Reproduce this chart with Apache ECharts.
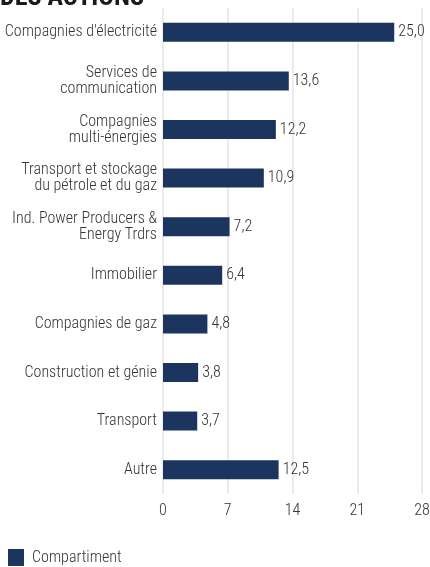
<!DOCTYPE html>
<html><head><meta charset="utf-8">
<script src="https://cdn.jsdelivr.net/npm/echarts@6/dist/echarts.min.js"></script>
<style>html,body{margin:0;padding:0;background:#fff}#c{width:430px;height:567px}</style>
</head><body><div id="c"></div>
<script>
var categories = ["Compagnies d'électricité","Services de\ncommunication","Compagnies\nmulti-énergies","Transport et stockage\ndu pétrole et du gaz","Ind. Power Producers &\nEnergy Trdrs","Immobilier","Compagnies de gaz","Construction et génie","Transport","Autre"];
var values = [25.0,13.6,12.2,10.9,7.2,6.4,4.8,3.8,3.7,12.5];
var seriesName = "Compartiment";
var titleText = "DES ACTIONS";
var FONT = "'Roboto Condensed',sans-serif";
var chart = echarts.init(document.getElementById('c'), null, {renderer:'canvas'});
chart.setOption({
  animation:false,
  title:{text:titleText,left:0,top:-20,padding:[5,5,5,0],textStyle:{fontFamily:FONT,fontWeight:'bold',fontSize:26,color:'#1a1a1a'}},
  legend:{left:8,top:549,padding:0,itemWidth:16,itemHeight:17,itemGap:8,icon:'rect',
    textStyle:{fontFamily:FONT,fontWeight:300,fontSize:16,color:'#333',padding:[0,0,0,3]},data:[seriesName]},
  grid:{left:163,right:8,top:8,bottom:73,containLabel:false,outerBoundsMode:'none'},
  xAxis:{type:'value',min:0,max:28,interval:7,
    axisLine:{show:false},axisTick:{show:false},
    splitLine:{show:true,lineStyle:{color:'#ebebeb',width:2}},
    axisLabel:{fontFamily:FONT,fontWeight:300,fontSize:16,color:'#333',margin:9,
      formatter:function(v){return String(v);}}},
  yAxis:{type:'category',inverse:true,data:categories,
    axisLine:{show:false},axisTick:{show:false},
    axisLabel:{fontFamily:FONT,fontWeight:300,fontSize:16,color:'#333',margin:6,lineHeight:16,align:'right'}},
  series:[{name:seriesName,type:'bar',data:values,barWidth:19,
    itemStyle:{color:'#1c355e'},
    label:{show:true,position:'right',distance:4,fontFamily:FONT,fontWeight:300,fontSize:16,color:'#333',
      formatter:function(p){return p.value.toFixed(1).replace('.',',');}}}]
});
</script></body></html>
